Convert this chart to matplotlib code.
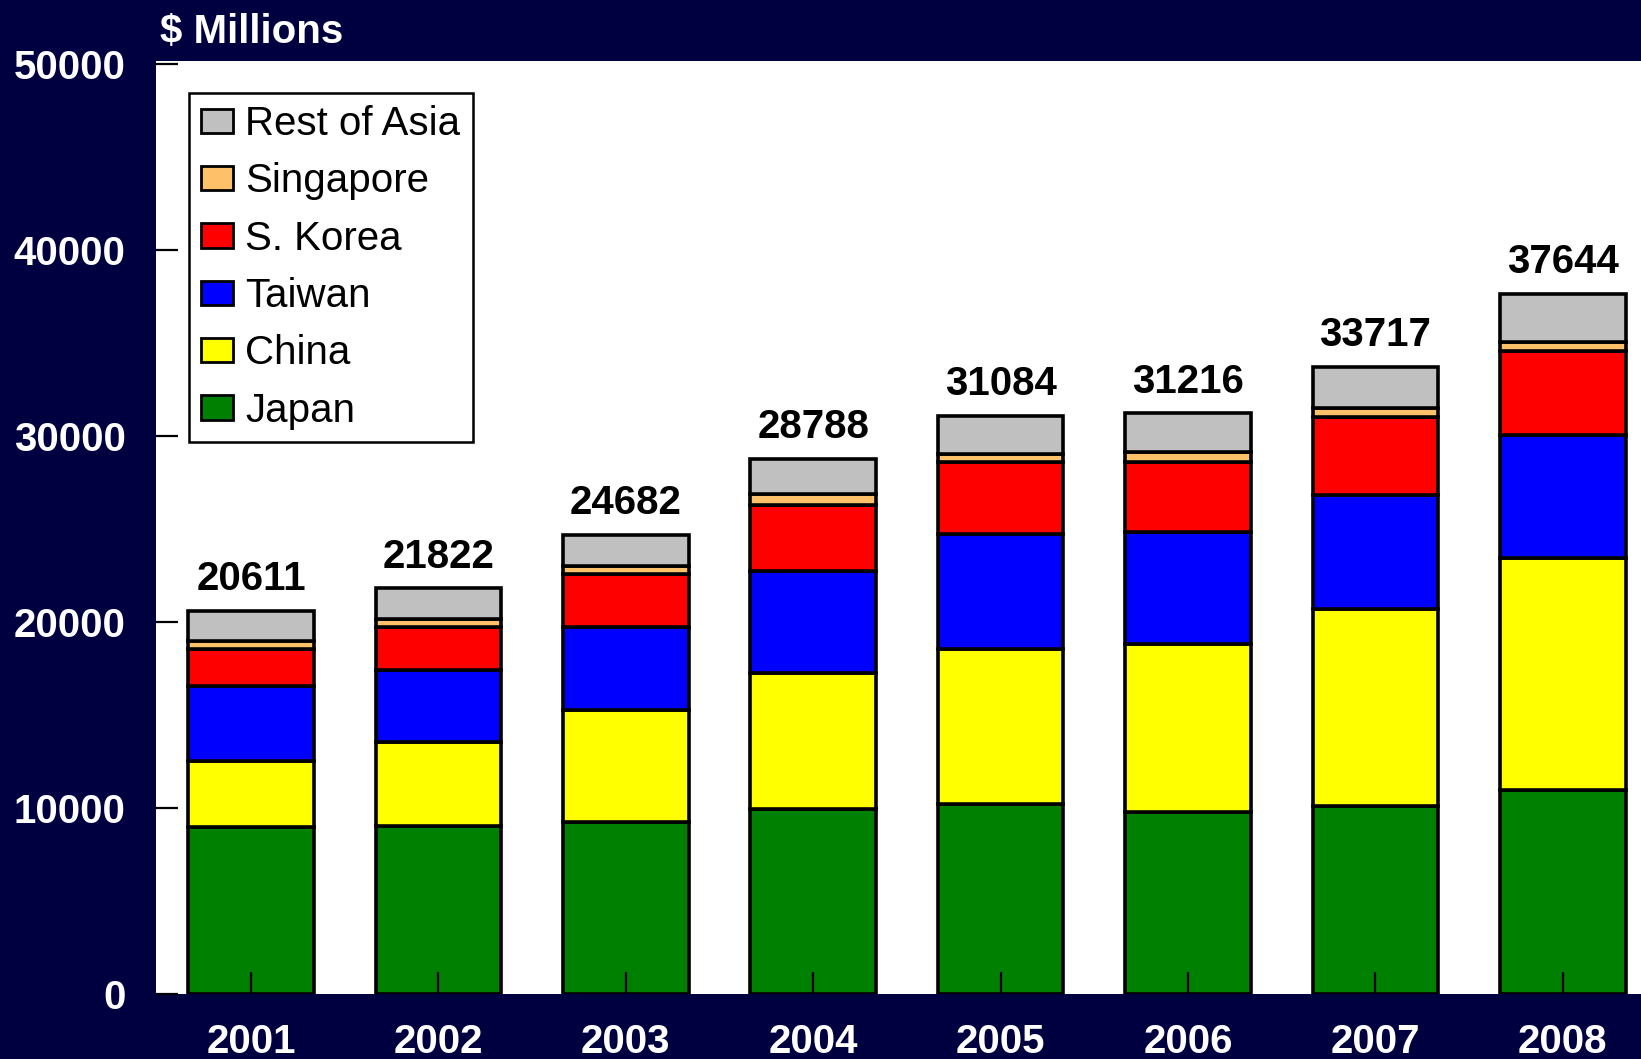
import numpy as np
import matplotlib
matplotlib.use("Agg")
import matplotlib.pyplot as plt

# US exports to Asia, $ millions
years = ["2001", "2002", "2003", "2004", "2005", "2006", "2007", "2008"]
totals = [20611, 21822, 24682, 28788, 31084, 31216, 33717, 37644]
japan = [8960, 9050, 9230, 9950, 10230, 9800, 10090, 10950]
china = [3580, 4480, 6020, 7310, 8300, 9020, 10590, 12470]
taiwan = [4020, 3890, 4460, 5460, 6190, 6040, 6160, 6630]
korea = [1970, 2290, 2850, 3570, 3870, 3730, 4180, 4540]
singapore = [470, 430, 440, 580, 440, 570, 470, 460]
# whatever is left of each year's total
rest = [t - (a + b + c + d + e) for t, a, b, c, d, e in
        zip(totals, japan, china, taiwan, korea, singapore)]

series = [
    ("Japan", japan, "#008000"),
    ("China", china, "#FFFF00"),
    ("Taiwan", taiwan, "#0000FF"),
    ("S. Korea", korea, "#FF0000"),
    ("Singapore", singapore, "#FFC06A"),
    ("Rest of Asia", rest, "#C0C0C0"),
]

plt.rcParams["font.family"] = ["Liberation Sans", "DejaVu Sans"]
navy = "#000040"
fs = 29

W, H = 1641, 1059
fig = plt.figure(figsize=(W / 100, H / 100), dpi=100, facecolor=navy)
ax = fig.add_axes([156 / W, (H - 994) / H, (W - 156) / W, (994 - 61) / H])
ax.set_facecolor("white")

x = np.arange(len(years))
bottom = np.zeros(len(years))
for name, vals, color in series:
    ax.bar(x, vals, width=0.67, bottom=bottom, color=color,
           edgecolor="black", linewidth=2.6, label=name, zorder=1)
    bottom += np.array(vals)

for xi, t in zip(x, totals):
    ax.annotate(str(t), (xi, t), xytext=(0, 9), textcoords="offset points",
                ha="center", va="bottom", fontsize=fs, fontweight="bold",
                color="black")

ax.set_xlim(-0.507, 7.417)
ax.set_ylim(0, 50160)
ax.set_yticks(range(0, 50001, 10000))
ax.set_xticks(x)
ax.set_xticklabels(years)
ax.tick_params(axis="both", direction="in", length=16, width=1.6,
               color="black", labelcolor="white", labelsize=fs)
ax.tick_params(axis="y", pad=22)
ax.tick_params(axis="x", pad=21)
for lab in ax.get_xticklabels() + ax.get_yticklabels():
    lab.set_fontweight("bold")
for sp in ax.spines.values():
    sp.set_visible(False)

handles, labels = ax.get_legend_handles_labels()
leg = ax.legend(handles[::-1], labels[::-1], loc="upper left",
                bbox_to_anchor=(189 / W, 1 - 93 / H),
                bbox_transform=fig.transFigure, borderaxespad=0,
                fontsize=fs, frameon=True, fancybox=False, framealpha=1,
                edgecolor="black", handlelength=0.8, handleheight=0.55,
                handletextpad=0.3, labelspacing=0.48, borderpad=0.3)
leg.get_frame().set_linewidth(1.8)
for h in leg.legend_handles:
    h.set_linewidth(2.0)

fig.text(160 / W, 1 - 43 / H, "$ Millions", color="white", fontsize=fs,
         fontweight="bold", ha="left", va="baseline")

fig.savefig("out.png", dpi=100, facecolor=navy)
